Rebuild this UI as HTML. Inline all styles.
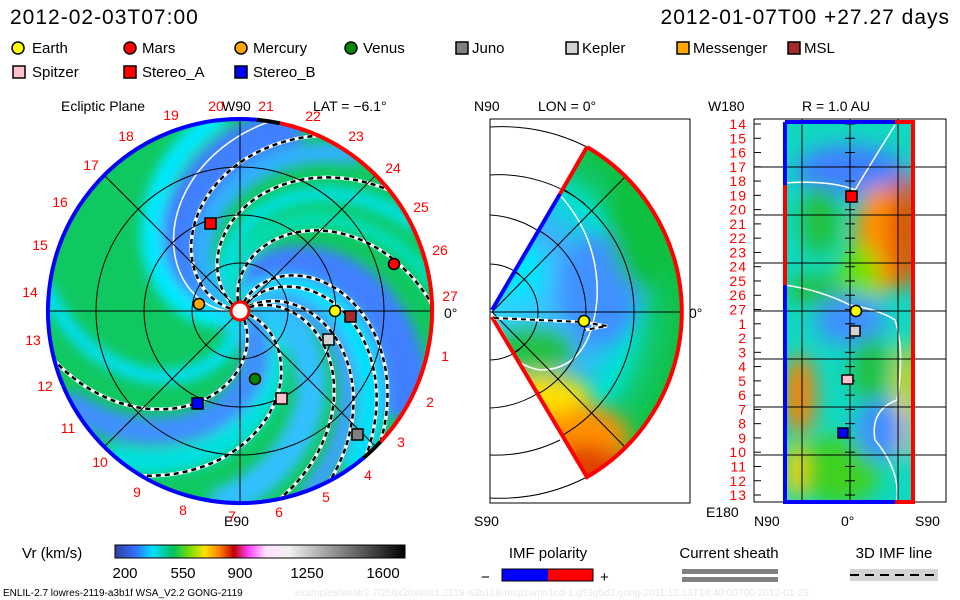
<!DOCTYPE html>
<html><head><meta charset="utf-8"><style>
body{margin:0;background:#fff;}
svg{display:block;font-family:"Liberation Sans",sans-serif;}
</style></head><body>
<svg id="s" width="960" height="600" viewBox="0 0 960 600" xmlns="http://www.w3.org/2000/svg">
<defs>
<clipPath id="disc"><circle cx="240" cy="311" r="192"/></clipPath>
<clipPath id="wedge"><path d="M492,312 L587,147 A191,191 0 0 1 587,477 Z"/></clipPath>
<clipPath id="rect"><rect x="785" y="122" width="130" height="380"/></clipPath>
<filter id="bl" x="-20%" y="-20%" width="140%" height="140%"><feGaussianBlur stdDeviation="6"/></filter>
<filter id="bl2" x="-30%" y="-30%" width="160%" height="160%"><feGaussianBlur stdDeviation="10"/></filter>
<radialGradient id="wg" cx="492" cy="312" r="191" gradientUnits="userSpaceOnUse">
<stop offset="0" stop-color="#30d8ff"/><stop offset="0.5" stop-color="#40b0ff"/><stop offset="0.72" stop-color="#00e0d0"/><stop offset="0.85" stop-color="#10c870"/><stop offset="1" stop-color="#10c040"/></radialGradient>
<linearGradient id="cb" x1="0" x2="1">
<stop offset="0" stop-color="#3040a0"/><stop offset="0.07" stop-color="#3070ff"/><stop offset="0.13" stop-color="#00e0ff"/><stop offset="0.2" stop-color="#00c060"/><stop offset="0.26" stop-color="#80e000"/><stop offset="0.31" stop-color="#ffe000"/><stop offset="0.36" stop-color="#ff8000"/><stop offset="0.41" stop-color="#c00000"/><stop offset="0.46" stop-color="#ff40ff"/><stop offset="0.52" stop-color="#ffe0ff"/><stop offset="0.6" stop-color="#f0f0f0"/><stop offset="1" stop-color="#000"/></linearGradient>
</defs>

<text x="10" y="24" font-size="21" fill="#000" letter-spacing="1">2012-02-03T07:00</text>
<text x="950" y="24" font-size="21" fill="#000" text-anchor="end" letter-spacing="1">2012-01-07T00 +27.27 days</text>

<g font-size="15" fill="#000">
<circle cx="18" cy="48" r="6" fill="#ff0" stroke="#000" stroke-width="1.5"/><text x="32" y="53">Earth</text>
<circle cx="130" cy="48" r="6" fill="#f00" stroke="#000" stroke-width="1.5"/><text x="142" y="53">Mars</text>
<circle cx="241" cy="48" r="6" fill="#ffa500" stroke="#000" stroke-width="1.5"/><text x="253" y="53">Mercury</text>
<circle cx="351" cy="48" r="6" fill="#080" stroke="#000" stroke-width="1.5"/><text x="363" y="53">Venus</text>
<rect x="456" y="42" width="12" height="12" fill="#808080" stroke="#000" stroke-width="1.5"/><text x="472" y="53">Juno</text>
<rect x="566" y="42" width="12" height="12" fill="#d3d3d3" stroke="#000" stroke-width="1.5"/><text x="582" y="53">Kepler</text>
<rect x="677" y="42" width="12" height="12" fill="#ffa500" stroke="#000" stroke-width="1.5"/><text x="693" y="53">Messenger</text>
<rect x="788" y="42" width="12" height="12" fill="#a52a2a" stroke="#000" stroke-width="1.5"/><text x="804" y="53">MSL</text>
<rect x="13" y="66" width="12" height="12" fill="#ffc0cb" stroke="#000" stroke-width="1.5"/><text x="32" y="77">Spitzer</text>
<rect x="124" y="66" width="12" height="12" fill="#f00" stroke="#000" stroke-width="1.5"/><text x="142" y="77">Stereo_A</text>
<rect x="235" y="66" width="12" height="12" fill="#00f" stroke="#000" stroke-width="1.5"/><text x="253" y="77">Stereo_B</text>
</g>

<g font-size="14" fill="#000">
<text x="61" y="111">Ecliptic Plane</text>
<text x="222" y="111">W90</text>
<text x="313" y="111">LAT = −6.1°</text>
<text x="474" y="111">N90</text>
<text x="538" y="111">LON = 0°</text>
<text x="802" y="111">R = 1.0 AU</text>
<text x="708" y="111">W180</text>
<text x="224" y="526">E90</text>
<text x="474" y="526">S90</text>
<text x="706" y="517">E180</text>
<text x="754" y="526">N90</text>
<text x="841" y="526">0°</text>
<text x="915" y="526">S90</text>
<text x="689" y="318">0°</text>
<text x="444" y="318">0°</text>
</g>

<g clip-path="url(#disc)">
<circle cx="240" cy="311" r="192" fill="#10c860"/>
<g id="bands" filter="url(#bl)"></g>
<g id="arms"></g>
</g>
<g stroke="#000" stroke-width="1" fill="none">
<circle cx="240" cy="311" r="48"/><circle cx="240" cy="311" r="96"/><circle cx="240" cy="311" r="144"/>
<line x1="48" y1="311" x2="432" y2="311"/><line x1="240" y1="119" x2="240" y2="503"/>
<line x1="104" y1="175" x2="376" y2="447"/><line x1="104" y1="447" x2="376" y2="175"/>
</g>
<g id="rim"></g>
<circle cx="240" cy="311" r="9" fill="#fff" stroke="#f00" stroke-width="3"/>
<g id="daylbl" font-size="14" fill="#f00" text-anchor="middle"></g>
<g stroke="#000" stroke-width="1.5">
<circle cx="199" cy="304" r="5.5" fill="#ffa500"/>
<circle cx="335" cy="311" r="5.5" fill="#ff0"/>
<circle cx="394" cy="264" r="5.5" fill="#f00"/>
<circle cx="255" cy="379" r="5.5" fill="#080"/>
<rect x="205" y="218" width="11" height="11" fill="#f00"/>
<rect x="345" y="311" width="11" height="11" fill="#a52a2a"/>
<rect x="323" y="334" width="11" height="11" fill="#d3d3d3"/>
<rect x="276" y="393" width="11" height="11" fill="#ffc0cb"/>
<rect x="192" y="398" width="11" height="11" fill="#00f"/>
<rect x="352" y="429" width="11" height="11" fill="#808080"/>
</g>

<rect x="490" y="119" width="200" height="384" fill="none" stroke="#000"/>
<g clip-path="url(#wedge)">
<rect x="480" y="130" width="220" height="360" fill="url(#wg)"/>
<g filter="url(#bl2)">
<ellipse cx="600" cy="290" rx="40" ry="55" fill="#4090ff"/>
<ellipse cx="645" cy="220" rx="35" ry="70" fill="#10c040"/>
<ellipse cx="560" cy="440" rx="70" ry="40" fill="#ff9000"/>
<ellipse cx="585" cy="470" rx="40" ry="25" fill="#e04000"/>
<ellipse cx="540" cy="395" rx="50" ry="20" fill="#ffe000"/>
<ellipse cx="530" cy="350" rx="45" ry="20" fill="#20c040"/>
<ellipse cx="520" cy="270" rx="25" ry="30" fill="#00e8ff"/>
</g>
<path d="M560,195 Q600,240 597,300 Q590,370 540,370 Q510,365 492,330" fill="none" stroke="#fff" stroke-width="1.5"/>
</g>
<g stroke="#000" stroke-width="1" fill="none">
<path d="M490,312 L683,312"/>
<path d="M492,312 L625,177 M492,312 L625,447"/>
<path d="M490,175 A140,140 0 0 1 585,204" /><path d="M490,215 A100,100 0 0 1 540,232"/>
<path d="M490,264 A50,50 0 0 1 520,275"/>
<path d="M490,127 A190,190 0 0 1 587,147"/>
<circle cx="492" cy="312" r="46" clip-path="url(#wedge)"/><circle cx="492" cy="312" r="94" clip-path="url(#wedge)"/><circle cx="492" cy="312" r="142" clip-path="url(#wedge)"/>
<path d="M490,360 A50,50 0 0 0 520,349"/><path d="M490,408 A100,100 0 0 0 540,392"/>
<path d="M490,455 A145,145 0 0 0 560,440"/><path d="M490,498 A190,190 0 0 0 587,477"/>
</g>
<path d="M587,147 A191,191 0 0 1 587,477 L492,317" fill="none" stroke="#f00" stroke-width="4"/>
<path d="M560,194 L587,147" fill="none" stroke="#f00" stroke-width="4"/>
<path d="M492,310 L560,194" fill="none" stroke="#00f" stroke-width="4"/>
<path d="M494,318 L583,322 L607,326 L585,330" fill="none" stroke="#fff" stroke-width="3"/>
<path d="M494,318 L583,322 L607,326 L585,330" fill="none" stroke="#000" stroke-width="2" stroke-dasharray="5,4"/>
<circle cx="584" cy="321" r="5.5" fill="#ff0" stroke="#000" stroke-width="1.5"/>

<rect x="754" y="119" width="192" height="383" fill="none" stroke="#000"/>
<g clip-path="url(#rect)">
<rect x="785" y="122" width="130" height="380" fill="#10d8c0"/>
<g filter="url(#bl2)">
<ellipse cx="850" cy="170" rx="55" ry="25" fill="#4080ff"/>
<ellipse cx="880" cy="240" rx="25" ry="55" fill="#ff9000"/>
<ellipse cx="905" cy="230" rx="15" ry="60" fill="#e05000"/>
<ellipse cx="860" cy="280" rx="20" ry="35" fill="#70e000"/>
<ellipse cx="820" cy="220" rx="20" ry="35" fill="#20c040"/>
<ellipse cx="815" cy="290" rx="30" ry="15" fill="#20c040"/>
<ellipse cx="850" cy="320" rx="35" ry="25" fill="#4090ff"/>
<ellipse cx="870" cy="370" rx="18" ry="35" fill="#20c040"/>
<ellipse cx="800" cy="395" rx="15" ry="40" fill="#ff8000"/>
<ellipse cx="905" cy="400" rx="10" ry="60" fill="#ffd000"/>
<ellipse cx="840" cy="470" rx="40" ry="35" fill="#40d020"/>
<ellipse cx="880" cy="430" rx="25" ry="30" fill="#4090ff"/>
<ellipse cx="795" cy="470" rx="10" ry="30" fill="#ffd000"/>
</g>
<path d="M785,183 Q830,180 855,190 Q870,165 895,125" fill="none" stroke="#fff" stroke-width="1.5"/>
<path d="M785,285 Q820,290 850,305 Q880,310 895,320 Q905,350 897,400 Q870,410 875,440 Q900,470 897,500" fill="none" stroke="#fff" stroke-width="1.5"/>
</g>
<g stroke="#000" stroke-width="1">
<line x1="802" y1="119" x2="802" y2="502"/><line x1="850" y1="119" x2="850" y2="502"/><line x1="898" y1="119" x2="898" y2="502"/>
<line x1="754" y1="167" x2="946" y2="167"/><line x1="754" y1="215" x2="946" y2="215"/><line x1="754" y1="263" x2="946" y2="263"/><line x1="754" y1="311" x2="946" y2="311"/><line x1="754" y1="359" x2="946" y2="359"/><line x1="754" y1="407" x2="946" y2="407"/><line x1="754" y1="455" x2="946" y2="455"/>
</g>
<g id="rticks" stroke="#000"></g>
<g id="rlbl" font-size="14" fill="#f00" text-anchor="end"></g>
<path d="M785,122 L895,122 M785,122 L785,502 L895,502" fill="none" stroke="#00f" stroke-width="4"/>
<path d="M785,185 L785,285" stroke="#f00" stroke-width="4"/>
<path d="M895,122 L913,122 L913,502 L895,502" fill="none" stroke="#f00" stroke-width="4"/>
<g stroke="#000" stroke-width="1.5">
<rect x="846" y="191" width="11" height="11" fill="#f00"/>
<circle cx="856" cy="311" r="5.5" fill="#ff0"/>
<rect x="850" y="326" width="10" height="10" fill="#d3d3d3"/>
<rect x="842" y="375" width="11" height="9" fill="#ffc0cb"/>
<rect x="838" y="428" width="10" height="10" fill="#00f"/>
</g>

<text x="22" y="558" font-size="15">Vr (km/s)</text>
<rect x="115" y="545" width="290" height="13" fill="url(#cb)" stroke="#000"/>
<g font-size="15" text-anchor="middle"><text x="125" y="578">200</text><text x="183" y="578">550</text><text x="240" y="578">900</text><text x="307" y="578">1250</text><text x="383" y="578">1600</text></g>
<text x="548" y="558" font-size="15" text-anchor="middle">IMF polarity</text>
<rect x="502" y="569" width="46" height="12" fill="#00f"/><rect x="548" y="569" width="45" height="12" fill="#f00"/><rect x="502" y="569" width="91" height="12" fill="none" stroke="#000"/>
<text x="481" y="582" font-size="15">−</text><text x="600" y="582" font-size="15">+</text>
<text x="729" y="558" font-size="15" text-anchor="middle">Current sheath</text>
<rect x="682" y="569" width="96" height="5" fill="#808080"/><rect x="682" y="577" width="96" height="5" fill="#808080"/>
<text x="894" y="558" font-size="15" text-anchor="middle">3D IMF line</text>
<rect x="850" y="569" width="88" height="12" fill="#d3d3d3"/><line x1="850" y1="575" x2="938" y2="575" stroke="#000" stroke-width="2" stroke-dasharray="9,6"/>
<text x="3" y="596" font-size="10">ENLIL-2.7 lowres-2119-a3b1f WSA_V2.2 GONG-2119</text>
<text x="295" y="596" font-size="10" fill="#e8e8e8">examples/wsalr2.7/256x30x90x1.2119-a3b1f.8-mcp1umn1cd-1.g53g5d2.gong-2011:12:13T14:40:00T00 2012-01-29</text>
</svg>
<script>
(function(){
var NS="http://www.w3.org/2000/svg",cx=240,cy=311,R=192;
function el(t,a,p){var e=document.createElementNS(NS,t);for(var k in a)e.setAttribute(k,a[k]);p.appendChild(e);return e;}
function spiral(end,k,r0){var d="";for(var r=r0;r<=R+5;r+=3){var a=(end-k*(R-r))*Math.PI/180;d+=(r==r0?"M":"L")+(cx+r*Math.cos(a)).toFixed(1)+","+(cy+r*Math.sin(a)).toFixed(1);}return d;}
var bands=document.getElementById("bands");
var bl=[[-75,0.55,"#4080ff",40],[-98,0.55,"#00e8ff",22],[-55,0.55,"#30b0ff",20],[-28,0.55,"#00e0e0",16],[30,0.55,"#4080ff",46],[52,0.55,"#00e0ff",26],[68,0.55,"#40a0ff",18],[95,0.55,"#30c0ff",30],[130,0.55,"#00e0e0",26],[150,0.55,"#4090ff",28],[185,0.5,"#00e0ff",14],[-10,0.55,"#00e0c0",14]];
bl.forEach(function(b){el("path",{d:spiral(b[0],b[1],8),stroke:b[2],"stroke-width":b[3],fill:"none"},bands);});
var arms=document.getElementById("arms");
var al=[[-2,0.55],[-39,0.55],[-66,0.55],[49,0.55],[62,0.5],[78,0.55],[121,0.55],[165,0.55],[43,0.6]];
al.forEach(function(b){var d=spiral(b[0],b[1],10);el("path",{d:d,stroke:"#fff","stroke-width":3.5,fill:"none"},arms);el("path",{d:d,stroke:"#000","stroke-width":2.5,fill:"none","stroke-dasharray":"5,4"},arms);});
el("path",{d:spiral(-81,0.55,12),stroke:"#fff","stroke-width":1.5,fill:"none"},arms);
var rim=document.getElementById("rim");
function arc(a1,a2,c){var p1=[cx+R*Math.cos(a1*Math.PI/180),cy+R*Math.sin(a1*Math.PI/180)],p2=[cx+R*Math.cos(a2*Math.PI/180),cy+R*Math.sin(a2*Math.PI/180)];var lg=(a2-a1)>180?1:0;el("path",{d:"M"+p1[0]+","+p1[1]+"A"+R+","+R+" 0 "+lg+" 1 "+p2[0]+","+p2[1],stroke:c,"stroke-width":4,fill:"none"},rim);}
arc(-78,43,"#f00");arc(43,50,"#000");arc(50,275,"#00f");arc(275,282,"#000");
var lbl=document.getElementById("daylbl");
var pos=[[445,361,"1"],[430,407,"2"],[401,447,"3"],[368,480,"4"],[326,502,"5"],[279,517,"6"],[232,521,"7"],[183,515,"8"],[137,497,"9"],[100,467,"10"],[68,433,"11"],[45,391,"12"],[33,345,"13"],[30,297,"14"],[40,250,"15"],[60,207,"16"],[91,170,"17"],[126,141,"18"],[171,120,"19"],[216,111,"20"],[266,111,"21"],[313,121,"22"],[356,141,"23"],[393,173,"24"],[421,212,"25"],[440,255,"26"],[450,301,"27"]];
pos.forEach(function(p){var t=el("text",{x:p[0],y:p[1]},lbl);t.textContent=p[2];});
var rl=document.getElementById("rlbl"),rt=document.getElementById("rticks");
var names=[14,15,16,17,18,19,20,21,22,23,24,25,26,27,1,2,3,4,5,6,7,8,9,10,11,12,13];
names.forEach(function(n,i){var y=124+i*14.27;var t=el("text",{x:747,y:y+5,"letter-spacing":"1"},rl);t.textContent=n;el("line",{x1:754,y1:y,x2:761,y2:y},rt);el("line",{x1:845,y1:y,x2:855,y2:y},rt);});
})();
</script>
</body></html>
